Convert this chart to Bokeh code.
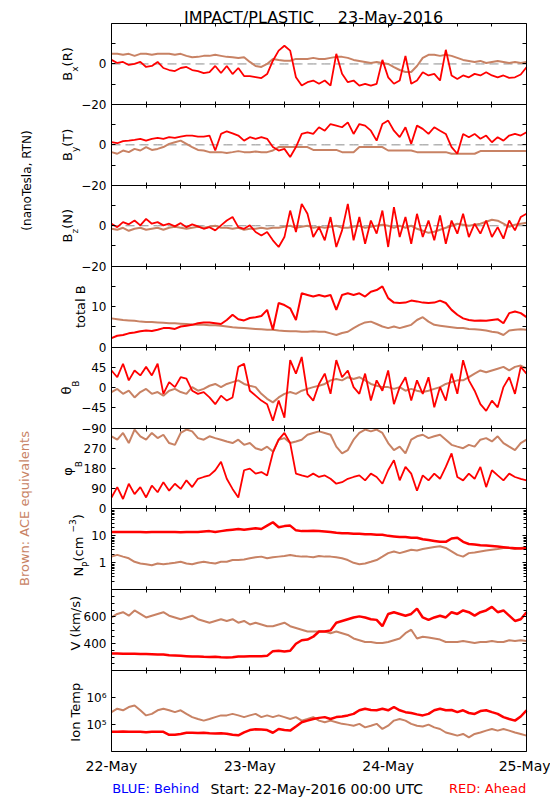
import math
from bokeh.plotting import figure
from bokeh.models import (LinearAxis, LogAxis, FixedTicker, Label, Range1d,
                          LinearScale, LogScale)
from bokeh.embed import file_html
from bokeh.resources import INLINE

# ---------------- data (hourly samples, 22-May-2016 00:00 UTC = hour 0) ----------------
HOURS = list(range(73))
X_TICKS = [0, 24, 48, 72]
X_MINOR = [6, 12, 18, 30, 36, 42, 54, 60, 66]
X_LABELS = {0: "22-May", 24: "23-May", 48: "24-May", 72: "25-May"}

red_bx = [2, 0.5, 1, -0.5, 0, 1, -1.5, -1, 1, -2,
          -3, -3.5, -2, -1.5, -3, -3.5, -4.5, -4, -1, -4.5,
          -1, -5, -2, -6, -6, -6.5, -7, -5, 1.6, 6.6,
          9, 6.6, -6.6, -10.7, -9, -8.2, -9.8, -8.2, -10.7, 5,
          -4.9, -9, -8.2, -10.7, -9.8, -10.7, -9.8, 2, -6.6, -9.8,
          -8.2, 4, -9.8, -8.2, -4.1, -5.7, -4.9, -8.2, 7, -5.7,
          -7.4, -5.7, -6.6, -4.9, -5.7, -4.1, -5.7, -6.6, -5.7, -6.9,
          -6.6, -5.2, -1.6]
ace_bx = [5, 5, 4.5, 5, 4, 5, 5, 4.5, 5, 5,
          5, 4.5, 5, 4, 3.3, 3.5, 4, 4, 4.5, 4,
          3.5, 3.3, 3, 3.3, 1, -1, -1.5, 0, 2.5, 2,
          1.6, 1.6, 2.5, 2.5, 2.5, 3, 2.5, 2.5, 3, 3.5,
          3.5, 3, 2, 1.5, 1, 0.5, 1, 0.5, 0, -1.6,
          -3, -4, -4, -1, 3, 4.5, 4.5, 4, 4.5, 4,
          3, 2, 1.5, 1, 1.5, 0.5, 1, 1.5, 1, 0.5,
          1, 0.5, 1]

red_by = [1.3, 0.8, 1.8, 2.1, 2.5, 3, 2.1, 3, 3.4, 3,
          3.8, 3.4, 4.1, 4.6, 4.6, 4.1, 4.1, 4.6, -2.8, 5.4,
          6.7, 5.7, 4.6, 2.1, 3.8, 3, 3.8, 3, -1.1, -2.8,
          -2, -6, -1.1, 5.4, 6.2, 5.4, 8.7, 7, 10.3, 9.5,
          8.7, 11.1, 5.4, 10.3, 9.5, 7, 2.1, 10.3, 12, 7,
          3.8, 8.7, 0.5, 9.5, 7.9, 5.4, 8.7, 7, 5.4, -1.1,
          -4.4, 5.4, 3.8, 5.4, 3, 4.6, 1.3, 3.8, 2.1, 4.6,
          5.4, 4.6, 6.2]
ace_by = [-3.6, -4.4, -2.8, -3.6, -2, -2.8, -1.1, -2.5, -2, -1.1,
          0.5, 1.3, 2.1, 0.5, -1.1, -2.5, -2.8, -3.6, -3.6, -3.6,
          -4, -3.6, -3.1, -3.6, -3.6, -3.3, -3.6, -3.6, -2.8, -1.1,
          -1.1, -1.1, -1.1, -1.1, -1.1, -2.5, -2.5, -2.5, -2.5, -2.5,
          -3.6, -3.6, -3.6, -1.1, -1.1, -1.1, -1.1, -1.1, -2.8, -2.8,
          -2.8, -2.8, -2.8, -3.6, -3.6, -3.6, -3.6, -3.6, -3.6, -4.4,
          -4.4, -4.4, -4.4, -4.4, -3.1, -3.1, -3.1, -3.1, -3.1, -3.1,
          -3.1, -3.1, -3.1]

red_bz = [1, -0.7, 1.8, 0.7, 2.6, 0.2, 3.4, 1, 1.8, 0.2,
          1, -0.3, 1.3, -0.7, 0.7, -0.3, -1.5, -0.7, -2.3, 0.2,
          2.6, 4.3, -0.7, -1.5, 0.2, -3.1, -4.8, -3.1, -7.2, -10.5,
          -5.6, 7.5, -3.1, 10.8, 5.9, -5.6, -0.7, -7.2, 4.3, -10.5,
          -2.3, 10.8, -7.2, 4.3, -8.9, 2.6, -3.9, 7.5, -10.5, 9.2,
          -5.6, 4.3, -8.9, 5.9, -5.6, 2.6, -7.2, 5.1, -8.9, 2.6,
          -3.9, 5.9, -5.6, 1, -3.9, 2.6, -5.6, -0.7, -6.4, 2.6,
          -2.3, 4.3, 5.9]
ace_bz = [-1.5, -2, -1, -2.5, -1.5, -1, -2, -1.5, -1, -2,
          -1, -0.5, -1, -1.5, -1, -0.5, -1, -0.5, 0, -1,
          -1, -1.5, -1, -2, -1.5, -1.5, -1, -1.5, -1, -1,
          -0.5, 0, -1, -0.5, 0, -1, -0.5, -1, -0.5, 0,
          -1, -1, -0.5, 0, -1, -0.5, 0, 0.5, 0, -1,
          0, -1, 0, -1.5, -2.5, -3.5, -3, -2, -1, 0,
          1, 0.5, 0, 0.5, 1, 2, 3, 2.5, 1, -0.5,
          0.5, 1, 1.5]

red_btot = [2.2, 2.8, 3, 3.4, 3.6, 3.9, 4.1, 4, 4.3, 4.7,
            4.7, 4.5, 5.1, 5.3, 5.5, 5.9, 6.1, 6.1, 5.9, 5.7,
            6.7, 8, 6.9, 6.6, 7.2, 7.4, 7.7, 9.2, 4.3, 10.9,
            10.4, 9.6, 6.7, 13.3, 12.9, 12.5, 12.9, 12.5, 12.9, 9.2,
            12.9, 13.3, 12.9, 13.3, 12.5, 13.7, 14.1, 15, 12.1, 11,
            10.9, 11, 11.5, 11.3, 11, 10.9, 11, 11.5, 10.9, 9.2,
            8, 7.1, 6.7, 6.5, 6.6, 6.5, 6.7, 6.9, 5.9, 8.4,
            8.8, 8.4, 7.4]
ace_btot = [7.1, 6.9, 6.7, 6.6, 6.5, 6.3, 6.2, 6.2, 6.1, 6.0,
            5.9, 5.9, 5.8, 5.7, 5.6, 5.5, 5.5, 5.4, 5.4, 5.3,
            5.1, 4.9, 4.8, 4.7, 4.6, 4.5, 4.4, 4.3, 4.3, 4.1,
            4.0, 3.9, 3.9, 3.8, 3.8, 3.9, 3.8, 3.8, 3.4, 3.0,
            3.5, 3.8, 4.7, 5.5, 6.1, 6.3, 5.7, 5.1, 4.7, 5.1,
            4.7, 5.1, 5.5, 6.7, 7.4, 6.3, 5.5, 5.3, 5.1, 4.9,
            4.7, 4.7, 4.5, 4.4, 4.3, 4.1, 3.8, 3.6, 3.0, 4.1,
            4.3, 4.4, 4.3]

red_theta = [38, 23, 53, 16, 38, 27, 46, 27, 53, -14,
             12, 1, 23, 20, -7, -14, -10, -22, -37, -18,
             -29, -22, 46, 53, -7, -18, -29, -37, -74, -29,
             -67, 61, 31, 68, -14, -29, 8, 31, -14, 61,
             23, 38, 1, -14, 31, -29, 16, -7, 38, -37,
             1, 23, -29, 16, -14, 23, -44, 1, -29, 31,
             -14, 61, 16, -7, -37, -52, -29, -44, 1, 23,
             -14, 46, 31]
ace_theta = [-10, -3, -14, -7, -22, -10, -3, -14, -10, -18,
             -7, -3, -10, -14, 1, -7, -3, 4, 8, 1,
             8, 12, 16, 8, 4, 1, -14, -25, -33, -22,
             -14, -10, -14, -7, -3, 1, 4, 8, 16, 19,
             16, 23, 19, 23, 16, 8, 4, 1, 1, -3,
             1, -7, -3, -7, -10, -7, -3, 1, 8, 12,
             16, 16, 23, 31, 38, 34, 38, 42, 46, 38,
             46, 49, 42]

red_phi = [51, 97, 44, 112, 66, 97, 51, 104, 74, 119,
           81, 112, 89, 127, 97, 134, 142, 149, 172, 210,
           134, 89, 51, 172, 179, 157, 164, 149, 250, 308,
           338, 293, 157, 149, 142, 157, 142, 149, 134, 112,
           119, 134, 142, 149, 127, 157, 142, 112, 172, 217,
           127, 187, 157, 81, 149, 127, 157, 134, 187, 247,
           142, 127, 157, 134, 187, 97, 172, 149, 127, 157,
           142, 134, 127]
ace_phi = [323, 308, 338, 293, 353, 323, 308, 338, 315, 330,
           293, 285, 338, 353, 345, 315, 308, 323, 315, 308,
           300, 293, 308, 285, 293, 270, 262, 277, 255, 308,
           315, 293, 300, 308, 330, 338, 345, 338, 330, 277,
           247, 262, 308, 338, 353, 345, 353, 338, 293, 262,
           277, 247, 308, 323, 330, 315, 323, 330, 308, 285,
           277, 270, 285, 277, 308, 315, 300, 323, 293, 277,
           262, 293, 308]

red_np = [14, 14, 14, 14, 14, 14, 13.5, 14, 14, 14,
          14, 14, 13.5, 14, 14, 14, 14.5, 15, 14, 15,
          16, 17, 18, 17, 18, 19, 18, 24, 32, 21,
          23, 24, 16, 15, 15, 15.5, 15, 14.5, 14, 13,
          12.5, 12.5, 12, 12, 11.5, 11.5, 11, 11, 10, 9.5,
          9, 9, 8.6, 8.5, 7.5, 7, 6.5, 6, 6, 8,
          8.5, 6, 5, 4.8, 4.5, 4.4, 4.2, 4, 3.8, 3.6,
          3.5, 3.4, 3.5]
ace_np = [1.70, 1.97, 1.70, 1.47, 1.09, 0.94, 0.89, 0.81, 0.94, 0.89,
          0.94, 1.0, 1.09, 0.94, 0.89, 1.0, 1.09, 1.0, 0.94, 1.09,
          1.09, 1.27, 1.27, 1.34, 1.47, 1.60, 1.70, 1.47, 1.60, 1.70,
          1.80, 1.97, 1.80, 1.70, 1.70, 1.60, 1.80, 1.70, 1.70, 1.60,
          1.47, 1.27, 1.0, 0.89, 0.94, 1.09, 1.27, 1.70, 2.29, 2.65,
          2.29, 2.65, 3.07, 2.89, 3.25, 3.56, 3.89, 4.12, 3.56, 2.65,
          1.97, 1.70, 2.29, 2.43, 2.65, 2.89, 3.07, 3.25, 3.56, 3.56,
          3.25, 3.56, 3.89]

red_v = [327, 327, 326, 325, 325, 324, 323, 322, 320, 320,
         314, 312, 310, 308, 305, 305, 303, 302, 303, 300,
         298, 300, 305, 305, 308, 307, 308, 310, 345, 348,
         343, 348, 400, 426, 431, 452, 491, 491, 499, 556,
         569, 582, 595, 603, 595, 582, 577, 530, 621, 634,
         621, 608, 621, 660, 595, 577, 595, 608, 595, 634,
         621, 647, 634, 608, 634, 647, 673, 634, 647, 608,
         569, 582, 634]
ace_v = [595, 621, 634, 608, 647, 621, 595, 608, 621, 634,
         608, 595, 582, 595, 608, 582, 569, 556, 569, 582,
         569, 582, 556, 569, 543, 556, 543, 530, 530, 543,
         556, 530, 517, 504, 491, 491, 491, 491, 478, 491,
         478, 465, 439, 426, 413, 413, 405, 405, 413, 426,
         439, 478, 504, 439, 452, 447, 439, 431, 413, 413,
         413, 421, 413, 405, 413, 413, 421, 413, 413, 426,
         421, 426, 421]

red_t = [5.5e4, 5.5e4, 5.6e4, 5.4e4, 5.5e4, 5.5e4, 5.2e4, 5.4e4, 5.5e4, 5.4e4,
         4.2e4, 4.2e4, 4.5e4, 5.0e4, 5.0e4, 4.9e4, 5.0e4, 4.8e4, 4.7e4, 4.8e4,
         4.6e4, 4.2e4, 4.0e4, 5.2e4, 6.3e4, 6.8e4, 6.6e4, 6.3e4, 5.0e4, 6.9e4,
         6.3e4, 6.0e4, 8.5e4, 1.23e5, 1.41e5, 1.62e5, 1.78e5, 1.9e5, 1.62e5, 1.9e5,
         2.0e5, 2.2e5, 2.5e5, 3.4e5, 3.9e5, 3.5e5, 3.4e5, 3.9e5, 3.4e5, 4.5e5,
         3.4e5, 2.9e5, 2.7e5, 2.4e5, 2.2e5, 2.5e5, 3.4e5, 3.9e5, 3.4e5, 3.5e5,
         2.9e5, 3.4e5, 2.7e5, 2.5e5, 3.2e5, 3.4e5, 2.9e5, 2.5e5, 1.9e5, 1.62e5,
         1.41e5, 2.0e5, 3.4e5]
ace_t = [2.9e5, 3.9e5, 3.4e5, 4.5e5, 5.1e5, 3.4e5, 2.2e5, 2.5e5, 3.4e5, 3.9e5,
         3.4e5, 2.9e5, 3.4e5, 2.5e5, 1.9e5, 1.62e5, 1.41e5, 1.62e5, 1.9e5, 2.2e5,
         2.2e5, 2.5e5, 2.2e5, 1.9e5, 2.2e5, 2.5e5, 1.9e5, 2.2e5, 1.9e5, 2.2e5,
         1.9e5, 1.62e5, 1.9e5, 1.41e5, 1.62e5, 1.9e5, 1.41e5, 1.23e5, 1.41e5, 1.23e5,
         1.07e5, 1.0e5, 9.1e4, 1.07e5, 7.9e4, 9.1e4, 1.07e5, 6.9e4, 9.1e4, 1.41e5,
         1.62e5, 1.41e5, 1.07e5, 9.1e4, 8.5e4, 1.0e5, 7.9e4, 6.9e4, 5.1e4, 4.5e4,
         3.9e4, 4.5e4, 3.4e4, 4.5e4, 5.1e4, 6.0e4, 6.9e4, 6.0e4, 6.9e4, 6.0e4,
         5.1e4, 4.5e4, 3.9e4]

# ---------------- layout / styling ----------------
RED = "#ff0000"
BROWN = "#c88264"
GRAY = "#8c8c8c"
FONT = "DejaVu Sans"
W, H = 550, 800
PLOT_L, PLOT_R = 111, 526
TOP0, PH = 23, 80.9          # top of first panel, panel height (px)

px_per_h = (PLOT_R - PLOT_L) / 72.0
p = figure(width=W, height=H,
           x_range=Range1d(-PLOT_L / px_per_h, 72 + (W - PLOT_R) / px_per_h),
           y_range=Range1d(H, 0),            # default y range = page pixels (top-down)
           x_axis_location=None, y_axis_location=None,
           output_backend="svg", toolbar_location=None, min_border=0)
p.outline_line_color = None
p.xgrid.visible = False
p.ygrid.visible = False
p.extra_y_ranges = {}
p.extra_y_scales = {}

CW = {'B': .686, 'x': .592, 'y': .592, 'z': .525, '(': .390, ')': .390, 'R': .695,
      'T': .611, 'N': .748, ' ': .318, 't': .392, 'o': .612, 'a': .613, 'l': .278,
      'V': .684, 'k': .579, 'm': .974, '/': .337, 's': .521, 'I': .295, 'n': .634,
      'e': .615, 'p': .635, 'c': .550, 'P': .603, 'θ': .602, 'φ': .660, '−': .838, '3': .636}


def text_w(t, size):
    return sum(CW.get(ch, .6) for ch in t) * size


def label(text, px, py, size, color="black", align="left", angle=0.0):
    p.add_layout(Label(x=px, y=H - py, x_units="screen", y_units="screen", text=text,
                       angle=angle, text_font=FONT, text_font_size=f"{size}px",
                       text_align=align, text_baseline="alphabetic", text_color=color))


def vlabel(parts, page_cy):
    """rotated multi-part label; parts = (text, font px, baseline page x)"""
    total = sum(text_w(t, s) for t, s, _ in parts)
    y = page_cy + total / 2
    for t, s, bx in parts:
        label(t, bx, y, s, angle=math.pi / 2)
        y -= text_w(t, s)


def style_axis(ax, labels, minor_len, font_px=12, standoff=5):
    ax.major_tick_in = 4
    ax.major_tick_out = 0
    ax.minor_tick_in = minor_len
    ax.minor_tick_out = 0
    ax.axis_line_color = "black"
    ax.major_tick_line_color = "black"
    ax.minor_tick_line_color = "black"
    if labels is None:
        ax.major_label_text_color = None
        ax.major_label_standoff = 0
    else:
        ax.major_label_overrides = labels
        ax.major_label_text_font = FONT
        ax.major_label_text_font_size = f"{font_px}px"
        ax.major_label_text_color = "black"
        ax.major_label_standoff = standoff


def panel(k, name, red, ace, ymin, ymax, major, minor, labels, log=False,
          zero=False, minor_len=4, red_w=2.0):
    top = TOP0 + PH * k
    bot = top + PH
    a, b = (math.log10(ymin), math.log10(ymax)) if log else (ymin, ymax)
    s = (b - a) / PH
    lo, hi = a - (H - bot) * s, b + top * s
    if log:
        lo, hi = 10 ** lo, 10 ** hi
    p.extra_y_ranges[name] = Range1d(lo, hi)
    p.extra_y_scales[name] = LogScale() if log else LinearScale()
    AxisCls = LogAxis if log else LinearAxis
    for side, loc in (("left", 0), ("right", 72)):
        ax = AxisCls(ticker=FixedTicker(ticks=major, minor_ticks=minor), y_range_name=name,
                     fixed_location=loc, bounds=(ymin, ymax))
        style_axis(ax, labels if side == "left" else None, minor_len)
        p.add_layout(ax, side)
    # x-axis tick rows on the top and bottom edge of the panel (ticks pointing inwards)
    for side, loc in (("above", top), ("below", bot)):
        ax = LinearAxis(ticker=FixedTicker(ticks=X_TICKS, minor_ticks=X_MINOR),
                        fixed_location=loc, bounds=(0, 72))
        if k == 8 and side == "below":
            style_axis(ax, X_LABELS, 3, font_px=14, standoff=6)
        else:
            style_axis(ax, None, 3)
        p.add_layout(ax, side)
    if zero:
        p.line(HOURS, [0] * len(HOURS), y_range_name=name, line_color=GRAY,
               line_dash="9 5", line_width=1)
    p.line(HOURS, ace, y_range_name=name, line_color=BROWN, line_width=2)
    p.line(HOURS, red, y_range_name=name, line_color=RED, line_width=red_w)
    return TOP0 + PH * (k + 0.5)


c = panel(0, "bx", red_bx, ace_bx, -20, 20, [-20, 0], [-10, 10], {-20: "−20", 0: "0"}, zero=True, red_w=1.8)
vlabel([("B", 13, 67), ("x", 9, 74), ("(R)", 13, 67)], c)
c = panel(1, "by", red_by, ace_by, -20, 20, [-20, 0], [-10, 10], {-20: "−20", 0: "0"}, zero=True, red_w=1.8)
vlabel([("B", 13, 67), ("y", 9, 74), ("(T)", 13, 67)], c)
c = panel(2, "bz", red_bz, ace_bz, -20, 20, [-20, 0], [-10, 10], {-20: "−20", 0: "0"}, zero=True, red_w=1.8)
vlabel([("B", 13, 67), ("z", 9, 74), ("(N)", 13, 67)], c)
c = panel(3, "bt", red_btot, ace_btot, 0, 20, [0, 10], [5, 15], {0: "0", 10: "10"})
vlabel([("total B", 13, 79.5)], c)
c = panel(4, "th", red_theta, ace_theta, -90, 90, [-90, -45, 0, 45], [],
          {-90: "−90", -45: "−45", 0: "0", 45: "45"}, red_w=1.8)
vlabel([("θ", 13, 66), ("B", 9, 75)], c)
c = panel(5, "ph", red_phi, ace_phi, 0, 360, [0, 90, 180, 270], [],
          {0: "0", 90: "90", 180: "180", 270: "270"}, red_w=1.8)
vlabel([("φ", 13, 67), ("B", 9, 78)], c)
NP_MINOR = [0.2, 0.3, 0.4, 0.5, 0.6, 0.7, 0.8, 0.9, 2, 3, 4, 5, 6, 7, 8, 9,
            20, 30, 40, 50, 60, 70, 80, 90]
c = panel(6, "np", red_np, ace_np, 0.1, 100, [1, 10], NP_MINOR, {1: "1", 10: "10"},
          log=True, minor_len=3, red_w=2.5)
vlabel([("N", 13, 78), ("P", 9, 85), (" (cm", 13, 78), ("−3", 9, 72), (")", 13, 78)], c - 4)
V_MINOR = [250, 300, 350, 450, 500, 550, 650, 700, 750]
c = panel(7, "v", red_v, ace_v, 200, 800, [400, 600], V_MINOR, {400: "400", 600: "600"},
          minor_len=3, red_w=2.5)
vlabel([("V (km/s)", 13, 75)], c - 7)
c = panel(8, "t", red_t, ace_t, 1e4, 1e7, [1e5, 1e6], [], {1e5: "10⁵", 1e6: "10⁶"},
          log=True, red_w=2.5)
vlabel([("Ion Temp", 13, 75)], c)

# title, captions and footer
label("IMPACT/PLASTIC", 248.5, 17, 16, align="center")
label("23-May-2016", 390, 17, 16, align="center")
label("(nanoTesla, RTN)", 26.4, 180, 12, align="center", angle=math.pi / 2)
label("Brown: ACE equivalents", 24, 508, 13, color=BROWN, align="center", angle=math.pi / 2)
label("BLUE: Behind", 111.7, 788, 13, color="#0000ff")
label("Start: 22-May-2016 00:00 UTC", 210, 788, 14)
label("RED: Ahead", 525.7, 788, 13, color=RED, align="right")

open("out.html", "w").write(file_html(p, INLINE))
